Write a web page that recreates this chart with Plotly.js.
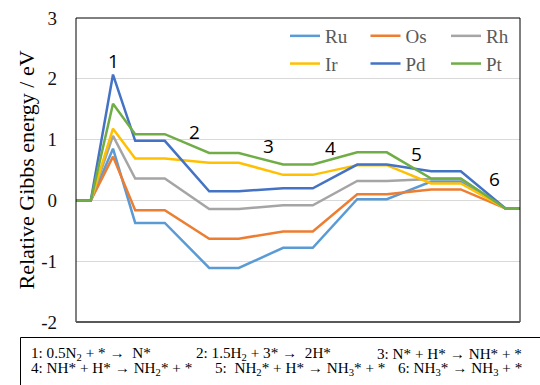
<!DOCTYPE html>
<html>
<head>
<meta charset="utf-8">
<script src="https://cdn.plot.ly/plotly-3.0.1.min.js"></script>
<style>html,body{margin:0;padding:0;background:#fff}#chart{width:540px;height:385px}</style>
</head>
<body>
<div id="chart"></div>
<script>
// Reaction-coordinate positions of the profile points (levels drawn as flat segments)
const xPos = [0, 1, 2.5, 4, 6, 9, 11, 14, 16, 19, 21, 24, 26, 29, 30];
const metals = ["Ru", "Os", "Rh", "Ir", "Pd", "Pt"];
const Ru = [0, 0, 0.85, -0.37, -0.37, -1.11, -1.11, -0.78, -0.78, 0.02, 0.02, 0.31, 0.31, -0.13, -0.13];
const Os = [0, 0, 0.72, -0.16, -0.16, -0.63, -0.63, -0.51, -0.51, 0.10, 0.10, 0.18, 0.18, -0.13, -0.13];
const Rh = [0, 0, 1.06, 0.36, 0.36, -0.14, -0.14, -0.08, -0.08, 0.32, 0.32, 0.35, 0.35, -0.13, -0.13];
const Ir = [0, 0, 1.18, 0.69, 0.69, 0.62, 0.62, 0.42, 0.42, 0.58, 0.58, 0.28, 0.28, -0.13, -0.13];
const Pd = [0, 0, 2.07, 0.98, 0.98, 0.15, 0.15, 0.20, 0.20, 0.59, 0.59, 0.48, 0.48, -0.13, -0.13];
const Pt = [0, 0, 1.59, 1.09, 1.09, 0.78, 0.78, 0.59, 0.59, 0.79, 0.79, 0.36, 0.36, -0.13, -0.13];
const seriesValues = [Ru, Os, Rh, Ir, Pd, Pt];
const colors = ["#5B9BD5", "#ED7D31", "#A5A5A5", "#FFC000", "#4472C4", "#70AD47"];

const stepLabels = ["1", "2", "3", "4", "5", "6"];
const stepLabelX = [2.5, 8, 13, 17.2, 23, 28.3];
const stepLabelY = [2.29, 1.12, 0.89, 0.86, 0.77, 0.35];

const yTicks = [-2, -1, 0, 1, 2, 3];
const reactionLines = [
  "1: 0.5N<sub>2</sub> + * \u2192  N*",
  "2: 1.5H<sub>2</sub> + 3* \u2192  2H*",
  "3: N* + H* \u2192 NH* + *",
  "4: NH* + H* \u2192 NH<sub>2</sub>* + *",
  "5:  NH<sub>2</sub>* + H* \u2192 NH<sub>3</sub>* + *",
  "6: NH<sub>3</sub>* \u2192 NH<sub>3</sub> + *"
];

const serif = "Liberation Serif, Times New Roman, serif";

// Legend columns: Ru/Ir, Os/Pd, Rh/Pt
const legendIds = ["legend", "legend2", "legend3", "legend", "legend2", "legend3"];

const traces = metals.map((m, i) => ({
  type: "scatter",
  mode: "lines",
  name: m,
  x: xPos,
  y: seriesValues[i],
  legend: legendIds[i],
  legendgroup: m,
  line: {color: colors[i], width: 2.5},
  hoverinfo: "skip"
}));

const annotations = stepLabels.map((t, i) => ({
  text: t, x: stepLabelX[i], y: stepLabelY[i], xref: "x", yref: "y",
  showarrow: false, font: {family: "Open Sans, sans-serif", size: 19, color: "#000"}
}));

// Reaction legend (bottom box): positions in pixels converted to paper
const W = 444, H = 304, L = 76, T = 18;
const px = v => (v - L) / W;
const py = v => (T + H - v) / H;
const colX = [[31, 196, 376.5], [31, 214.5, 397.5]];
const rowY = [354, 368.5];
reactionLines.forEach((t, i) => {
  const r = i < 3 ? 0 : 1, c = i % 3;
  annotations.push({
    text: t, x: px(colX[r][c]), y: py(rowY[r]), xref: "paper", yref: "paper",
    xanchor: "left", yanchor: "middle", showarrow: false,
    borderpad: 0, borderwidth: 0,
    font: {family: serif, size: 15.2, color: "#000"}
  });
});

const legendBase = {
  orientation: "v", xanchor: "left", y: py(17), yanchor: "top",
  font: {family: serif, size: 19, color: "#595959"},
  itemwidth: 30, bgcolor: "rgba(0,0,0,0)", traceorder: "normal", tracegroupgap: 2
};

const layout = {
  width: 540, height: 385,
  margin: {l: L, r: 540 - L - W, t: T, b: 385 - T - H},
  paper_bgcolor: "#fff", plot_bgcolor: "#fff",
  showlegend: true,
  legend: Object.assign({}, legendBase, {x: px(285)}),
  legend2: Object.assign({}, legendBase, {x: px(365.5)}),
  legend3: Object.assign({}, legendBase, {x: px(446)}),
  xaxis: {range: [0, 30], showgrid: false, zeroline: false, showticklabels: false,
          ticks: "", showline: false, fixedrange: true},
  yaxis: {
    range: [-2, 3], tickvals: yTicks, ticktext: yTicks.map(String),
    showgrid: true, gridcolor: "#D9D9D9", gridwidth: 1, zeroline: false,
    showline: false, ticks: "", ticklabelstandoff: 18,
    tickfont: {family: serif, size: 19, color: "#111"},
    title: {text: "Relative Gibbs energy / eV", font: {family: serif, size: 22, color: "#000"}, standoff: 0},
    automargin: false
  },
  shapes: [
    {type: "rect", xref: "paper", yref: "paper", x0: 0, x1: 1, y0: 0, y1: 1,
     line: {color: "#000", width: 1}, layer: "above"},
    {type: "line", xref: "paper", yref: "paper", x0: 0, x1: 1, y0: 0, y1: 0,
     line: {color: "#595959", width: 2}, layer: "above"},
    {type: "rect", xref: "paper", yref: "paper", x0: px(20.5), x1: px(560), y0: py(337.5), y1: py(400),
     line: {color: "#000", width: 1}, layer: "above"}
  ],
  annotations: annotations
};

Plotly.newPlot("chart", traces, layout, {staticPlot: true, displayModeBar: false});
</script>
</body>
</html>
